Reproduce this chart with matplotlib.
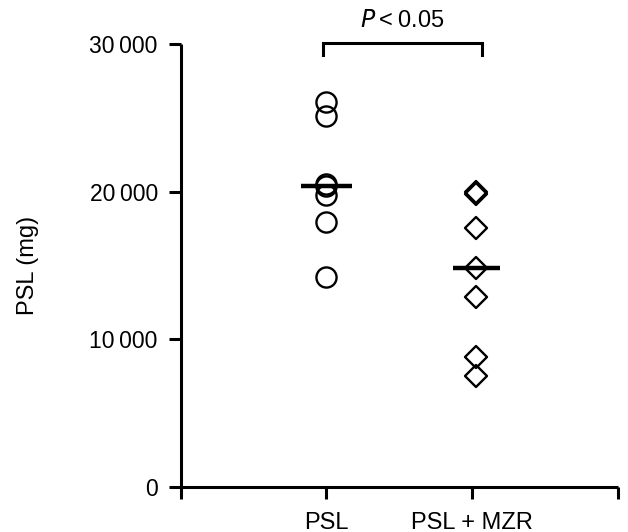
import matplotlib
matplotlib.use("Agg")
import matplotlib.pyplot as plt
from matplotlib.markers import MarkerStyle

plt.rcParams['font.family'] = ['Liberation Sans', 'DejaVu Sans']

# values (mg)
groups = ["PSL", "PSL + MZR"]
psl = [26090, 25120, 20510, 20400, 19770, 17960, 14230]
psl_mzr = [19950, 19820, 17510, 14800, 12880, 8810, 7500]
medians = [20380, 14800]
yticks = [0, 10000, 20000, 30000]
p_text = "$P$\u2009<\u20090.05"

fig = plt.figure(figsize=(6.28, 5.32), dpi=100)
ax = fig.add_axes([0.2877, 0.0852, 0.6959, 0.8321])

# group positions on the x axis
pos = [1.0, 2.03]

circ = MarkerStyle('o')
diam = MarkerStyle('D', joinstyle='round')
ax.plot([pos[0]] * len(psl), psl, linestyle='none', marker=circ, ms=14.5,
        mfc='none', mec='black', mew=1.7, clip_on=False)
ax.plot([pos[1]] * len(psl_mzr), psl_mzr, linestyle='none', marker=diam, ms=11.5,
        mfc='none', mec='black', mew=1.7, clip_on=False)

# median bars
halfw = [0.177, 0.16]
for p, m, h in zip(pos, medians, halfw):
    ax.hlines(m, p - h, p + h, color='black', linewidth=3.2, zorder=5)

# significance bracket
bx0, bx1 = 0.979, 2.066
by_top, by_leg = 30070, 29250
ax.plot([bx0, bx0, bx1, bx1], [by_leg, by_top, by_top, by_leg], color='black',
        linewidth=2.2, clip_on=False, solid_joinstyle='miter')
ax.text((bx0 + bx1) / 2, 31550, p_text, ha='center', va='center', fontsize=17)

ax.set_xlim(0, 3)
ax.set_ylim(0, 30000)
ax.set_xticks([0, 1, 2, 3])
ax.set_xticklabels(["", groups[0], groups[1], ""], fontsize=17)
ax.set_yticks(yticks)
ax.set_yticklabels([f"{v:,}".replace(",", "\u2009") for v in yticks], fontsize=16.5)
ax.set_ylabel("PSL (mg)", fontsize=17, labelpad=36)

for s in ['top', 'right']:
    ax.spines[s].set_visible(False)
for s in ['left', 'bottom']:
    ax.spines[s].set_linewidth(2.2)
    ax.spines[s].set_capstyle('butt')
ax.tick_params(axis='both', length=8.5, width=2.2, direction='out')
ax.tick_params(axis='y', pad=8)
ax.tick_params(axis='x', pad=10)

fig.savefig("out.png", dpi=100)
